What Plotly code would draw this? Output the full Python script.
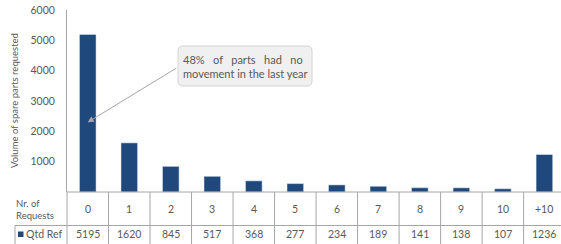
import plotly.graph_objects as go

categories = ["0", "1", "2", "3", "4", "5", "6", "7", "8", "9", "10", "+10"]
qtd_ref = [5195, 1620, 845, 517, 368, 277, 234, 189, 141, 138, 107, 1236]
y_ticks = [1000, 2000, 3000, 4000, 5000, 6000]
series_name = "Qtd Ref"
row_label = "Nr. of<br>Requests"
y_title = "Volume of spare parts requested"
note_text = "48%\u00a0\u00a0\u00a0of\u00a0\u00a0\u00a0parts\u00a0\u00a0\u00a0had\u00a0\u00a0\u00a0no<br>movement in the last year"
arrow_value = 2300

W, H = 561, 244
ML, MR, MT, MB = 67, 0, 10, 52
PW = W - ML - MR
PH = H - MT - MB
XR = [-0.5, 11.4]

BAR = "#1F497D"
TXT = "#595959"
GRID = "#a6a6a6"
FONT = "Lato"


def px(xp):
    return (xp - ML) / PW


def py(yp):
    return (H - MB - yp) / PH


def cx(k):
    # category index -> paper x through the axis range
    return (k - XR[0]) / (XR[1] - XR[0])


idx = list(range(len(categories)))

fig = go.Figure()
fig.add_trace(go.Bar(x=idx, y=qtd_ref, marker_color=BAR, width=0.4,
                     name=series_name, showlegend=False,
                     customdata=categories, hovertemplate="%{customdata}: %{y}<extra></extra>"))

shapes = []
annotations = []
n = len(categories)
y_row2 = py(225.5)
y_bot = py(246)

# table grid as a single path in paper coordinates
segs = []
segs.append(f"M {px(67)},0 L 1,0")
segs.append(f"M {px(15)},{y_row2} L 1,{y_row2}")
segs.append(f"M {px(15)},{y_row2} L {px(15)},{y_bot}")
for k in range(n + 1):
    xx = cx(k - 0.5)
    if xx > 1.001:
        continue
    segs.append(f"M {xx},0 L {xx},{y_bot}")
shapes.append(dict(type="path", xref="paper", yref="paper", path=" ".join(segs),
                   line=dict(color=GRID, width=1), layer="above"))
# legend square
shapes.append(dict(type="rect", xref="paper", yref="paper", x0=px(18), x1=px(23.5), y0=py(237), y1=py(231.5),
                   fillcolor=BAR, line=dict(width=0)))

# note box (rounded)
bx0, by1 = 178, 86
bw, bh, r = 134, 40, 5
path = (f"M {r},0 L {bw - r},0 Q {bw},0 {bw},{r} L {bw},{bh - r} Q {bw},{bh} {bw - r},{bh} "
        f"L {r},{bh} Q 0,{bh} 0,{bh - r} L 0,{r} Q 0,0 {r},0 Z")
shapes.append(dict(type="path", xref="paper", yref="paper", xsizemode="pixel", ysizemode="pixel",
                   xanchor=px(bx0), yanchor=py(by1), path=path,
                   fillcolor="#f0f0f0", line=dict(color="#d4d4d4", width=1), layer="above"))

# table texts
for k, (c, v) in enumerate(zip(categories, qtd_ref)):
    annotations.append(dict(x=k, y=py(209), xref="x", yref="paper", text=c, showarrow=False,
                            xanchor="center", yanchor="middle",
                            font=dict(family=FONT, size=10.5, color=TXT)))
    annotations.append(dict(x=k, y=py(234), xref="x", yref="paper", text=f"{v}", showarrow=False,
                            xanchor="center", yanchor="middle",
                            font=dict(family=FONT, size=10.5, color=TXT)))
annotations.append(dict(x=px(14), y=py(209.5), xref="paper", yref="paper", text=row_label,
                        showarrow=False, xanchor="left", yanchor="middle", align="left",
                        font=dict(family=FONT, size=9.5, color=TXT)))
annotations.append(dict(x=px(24), y=py(234), xref="paper", yref="paper", text=series_name,
                        showarrow=False, xanchor="left", yanchor="middle",
                        font=dict(family=FONT, size=10.5, color=TXT)))
# y title
annotations.append(dict(x=px(14), y=0.5, xref="paper", yref="paper", text=y_title, textangle=-90,
                        showarrow=False, xanchor="center", yanchor="middle",
                        font=dict(family=FONT, size=9.5, color=TXT)))
# arrow
annotations.append(dict(x=0, y=arrow_value, xref="x", yref="y", text="", showarrow=True,
                        ax=178 - 88, ay=67 - 122, arrowhead=2, arrowsize=1.2, arrowwidth=1,
                        arrowcolor="#a6a6a6"))
# note text
annotations.append(dict(x=px(245), y=py(66), xref="paper", yref="paper", text=note_text,
                        showarrow=False, align="left", xanchor="center", yanchor="middle",
                        font=dict(family=FONT, size=11, color=TXT)))

fig.update_layout(
    width=W, height=H,
    margin=dict(l=ML, r=MR, t=MT, b=MB),
    paper_bgcolor="white", plot_bgcolor="white",
    shapes=shapes, annotations=annotations,
    showlegend=False,
    font=dict(family=FONT, color=TXT),
    xaxis=dict(range=XR, showticklabels=False, showgrid=False,
               zeroline=False, showline=False, ticks=""),
    yaxis=dict(range=[0, 6000], tickvals=y_ticks, showgrid=False, zeroline=False,
               showline=True, linecolor=GRID, linewidth=1, ticks="", ticklabelstandoff=9,
               tickfont=dict(family=FONT, size=10.5, color=TXT)),
)

fig.write_html("out.html", config={"displayModeBar": False},
               post_script="document.body.style.margin='0px';document.body.style.overflow='hidden';")
